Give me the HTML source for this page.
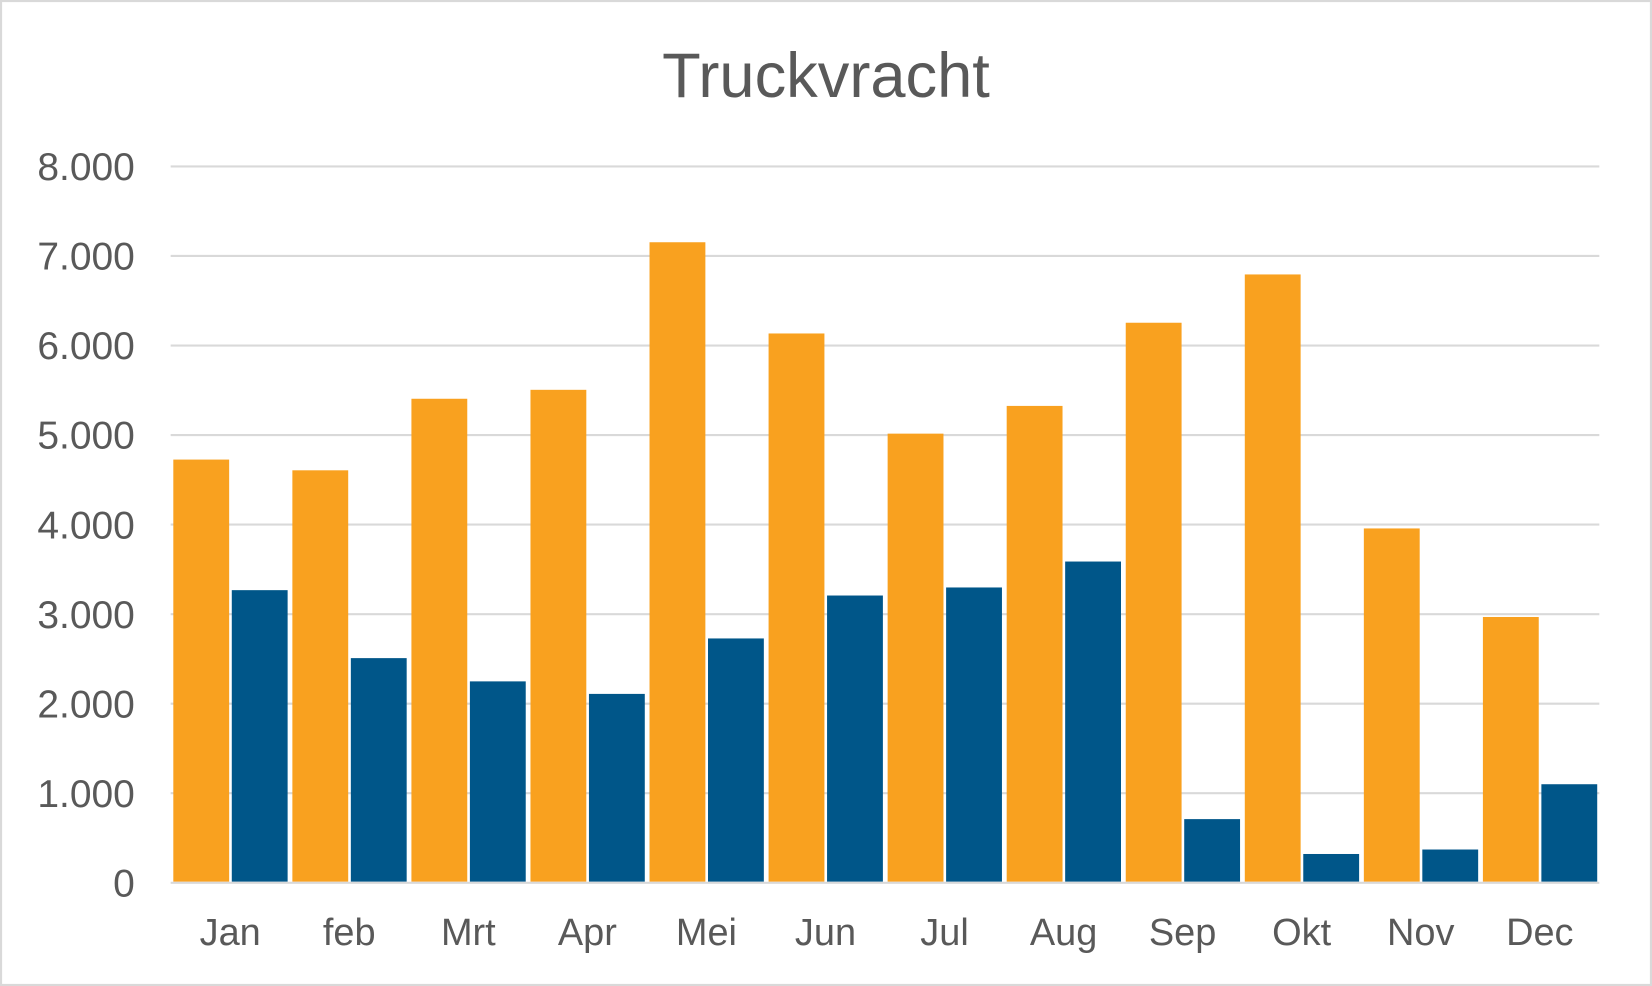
<!DOCTYPE html>
<html><head><meta charset="utf-8"><style>
html,body{margin:0;padding:0;background:#fff;}
svg{display:block;}
text{font-family:"Liberation Sans",Arial,sans-serif;fill:#595959;}
</style></head><body>
<svg width="1652" height="986" viewBox="0 0 1568 936" preserveAspectRatio="none" xmlns="http://www.w3.org/2000/svg">
<rect x="1" y="1" width="1566" height="934" fill="#fff" stroke="#D9D9D9" stroke-width="2"/>
<text x="784" y="92" font-size="60" text-anchor="middle">Truckvracht</text>
<g stroke="#D9D9D9" stroke-width="2">
<line x1="162" x2="1518" y1="158" y2="158"/>
<line x1="162" x2="1518" y1="243" y2="243"/>
<line x1="162" x2="1518" y1="328" y2="328"/>
<line x1="162" x2="1518" y1="413" y2="413"/>
<line x1="162" x2="1518" y1="498" y2="498"/>
<line x1="162" x2="1518" y1="583" y2="583"/>
<line x1="162" x2="1518" y1="668" y2="668"/>
<line x1="162" x2="1518" y1="753" y2="753"/>
</g>
<g font-size="37" text-anchor="end">
<text x="128" y="171">8.000</text>
<text x="128" y="256">7.000</text>
<text x="128" y="341">6.000</text>
<text x="128" y="426">5.000</text>
<text x="128" y="511">4.000</text>
<text x="128" y="596">3.000</text>
<text x="128" y="681">2.000</text>
<text x="128" y="766">1.000</text>
<text x="128" y="851">0</text>
</g>
<g id="bars"></g>
<line x1="162" x2="1518" y1="838" y2="838" stroke="#D9D9D9" stroke-width="2"/>
<g font-size="36" text-anchor="middle" id="xl"></g>
<script>
var o=[4720,4600,5400,5500,7150,6130,5010,5320,6250,6790,3950,2960];
var b=[3260,2500,2240,2100,2720,3200,3290,3580,700,310,360,1090];
var m=["Jan","feb","Mrt","Apr","Mei","Jun","Jul","Aug","Sep","Okt","Nov","Dec"];
var ns="http://www.w3.org/2000/svg",g=document.getElementById("bars"),xl=document.getElementById("xl");
function r(x,v,c){var h=v*0.0849;var e=document.createElementNS(ns,"rect");e.setAttribute("x",x);e.setAttribute("y",837-h);e.setAttribute("width",53);e.setAttribute("height",h);e.setAttribute("fill",c);g.appendChild(e);}
for(var i=0;i<12;i++){var c=162+113*(i+0.5);r(c-54,o[i],"#F9A11F");r(c+1.5,b[i],"#005689");
var t=document.createElementNS(ns,"text");t.setAttribute("x",c);t.setAttribute("y",897);t.textContent=m[i];xl.appendChild(t);}
</script>
</svg>
</body></html>
